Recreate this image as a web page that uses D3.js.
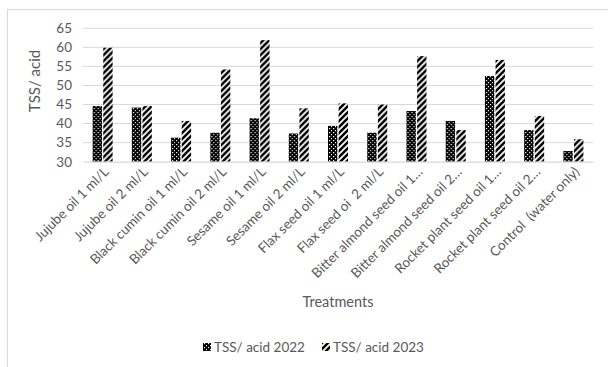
<!DOCTYPE html>
<html>
<head>
<meta charset="utf-8">
<script src="https://cdn.jsdelivr.net/npm/d3@7/dist/d3.min.js"></script>
<style>
  html, body { margin: 0; padding: 0; background: #fff; }
  svg { display: block; font-family: Lato, "Noto Sans", sans-serif; }
</style>
</head>
<body>
<svg id="chart" width="608" height="367"></svg>
<script>
// Treatments and TSS/acid ratio for the two seasons
const categories = [
  "Jujube oil 1 ml/L",
  "Jujube oil 2 ml/L",
  "Black cumin oil 1 ml/L",
  "Black cumin oil 2 ml/L",
  "Sesame oil 1 ml/L",
  "Sesame oil 2 ml/L",
  "Flax seed oil 1 ml/L",
  "Flax seed oi  2 ml/L",
  "Bitter almond seed oil 1…",
  "Bitter almond seed oil 2…",
  "Rocket plant seed oil 1…",
  "Rocket plant seed oil 2…",
  "Control  (water only)"
];
const tss2022 = [44.6, 44.2, 36.3, 37.6, 41.4, 37.4, 39.4, 37.6, 43.3, 40.7, 52.5, 38.3, 32.8];
const tss2023 = [59.9, 44.6, 40.7, 54.2, 61.9, 44.0, 45.3, 45.0, 57.7, 38.3, 56.7, 42.0, 35.9];
const seriesNames = ["TSS/ acid 2022", "TSS/ acid 2023"];
const yTicks = [30, 35, 40, 45, 50, 55, 60, 65];

const svg = d3.select("#chart");
const W = 608, H = 367;
const plot = { left: 83, right: 593, top: 28.3, bottom: 161.7 };

// Fill patterns: dark dotted grid for 2022, wide upward diagonal for 2023
const defs = svg.append("defs");
const dots = defs.append("pattern")
  .attr("id", "pat2022").attr("patternUnits", "userSpaceOnUse")
  .attr("width", 4).attr("height", 4);
dots.append("rect").attr("width", 4).attr("height", 4).attr("fill", "#000");
dots.append("rect").attr("x", 1).attr("y", 0).attr("width", 1.2).attr("height", 1.2).attr("fill", "#fff");
dots.append("rect").attr("x", 3).attr("y", 2).attr("width", 1.2).attr("height", 1.2).attr("fill", "#fff");

const diag = defs.append("pattern")
  .attr("id", "pat2023").attr("patternUnits", "userSpaceOnUse")
  .attr("width", 6).attr("height", 6);
diag.append("rect").attr("width", 6).attr("height", 6).attr("fill", "#fff");
diag.append("path")
  .attr("d", "M-1,7 L7,-1 M-4,4 L4,-4 M2,10 L10,2")
  .attr("stroke", "#000").attr("stroke-width", 2.5);

// Chart area frame
svg.append("rect").attr("width", W).attr("height", H).attr("fill", "#fff");
svg.append("path")
  .attr("d", `M7.5,${H} V9.5 H${W}`)
  .attr("fill", "none").attr("stroke", "#d9d9d9").attr("stroke-width", 1);

const x0 = d3.scaleBand().domain(categories).range([plot.left, plot.right]).padding(0);
const x1 = d3.scaleBand().domain(seriesNames).range([0, 20]).paddingInner(0.12);
const y = d3.scaleLinear().domain([30, 65]).range([plot.bottom, plot.top]);

// Horizontal gridlines
svg.append("g").selectAll("line").data(yTicks.filter(t => t !== 30)).join("line")
  .attr("x1", plot.left).attr("x2", plot.right)
  .attr("y1", d => y(d)).attr("y2", d => y(d))
  .attr("stroke", "#d9d9d9").attr("stroke-width", 1);

// Y axis tick labels
const yAxis = svg.append("g")
  .attr("transform", `translate(${plot.left},0)`)
  .call(d3.axisLeft(y).tickValues(yTicks).tickSize(0).tickPadding(11));
yAxis.select(".domain").remove();
yAxis.selectAll("text").attr("fill", "#595959").attr("font-size", "13.5px")
  .attr("font-family", "Lato, 'Noto Sans', sans-serif");

// Bars
const series = [tss2022, tss2023];
const groups = svg.append("g").selectAll("g").data(categories).join("g")
  .attr("transform", c => `translate(${x0(c) + x0.bandwidth() / 2 - 10},0)`);
groups.selectAll("rect")
  .data((c, i) => seriesNames.map((s, k) => ({ s, v: series[k][i], k })))
  .join("rect")
  .attr("x", d => x1(d.s))
  .attr("width", x1.bandwidth())
  .attr("y", d => y(d.v))
  .attr("height", d => y(30) - y(d.v))
  .attr("fill", d => d.k === 0 ? "url(#pat2022)" : "url(#pat2023)");

// Category axis line and rotated labels
const xAxis = svg.append("g")
  .attr("transform", `translate(0,${plot.bottom})`)
  .call(d3.axisBottom(x0).tickSize(0).tickPadding(0));
xAxis.select(".domain").attr("stroke", "#d9d9d9").attr("stroke-width", 1.2);
xAxis.selectAll("text")
  .attr("fill", "#595959").attr("font-size", "13.5px")
  .attr("font-family", "Lato, 'Noto Sans', sans-serif")
  .attr("text-anchor", "end")
  .attr("dy", "0")
  .attr("transform", "translate(7,11) rotate(-45)")
  .style("white-space", "pre");

// Axis titles
svg.append("text")
  .attr("transform", "translate(40,81) rotate(-90)")
  .attr("text-anchor", "middle")
  .attr("fill", "#595959").attr("font-size", "15px")
  .text("TSS/ acid");
svg.append("text")
  .attr("x", 338).attr("y", 307)
  .attr("text-anchor", "middle")
  .attr("fill", "#595959").attr("font-size", "14.5px")
  .text("Treatments");

// Legend
const legendItems = [
  { name: seriesNames[0], fill: "url(#pat2022)", x: 203 },
  { name: seriesNames[1], fill: "url(#pat2023)", x: 322 }
];
const lg = svg.append("g").selectAll("g").data(legendItems).join("g")
  .attr("transform", d => `translate(${d.x},343)`);
lg.append("rect").attr("width", 8).attr("height", 8).attr("fill", d => d.fill);
lg.append("text").attr("x", 11).attr("y", 9)
  .attr("fill", "#595959").attr("font-size", "13.5px")
  .text(d => d.name);
</script>
</body>
</html>
